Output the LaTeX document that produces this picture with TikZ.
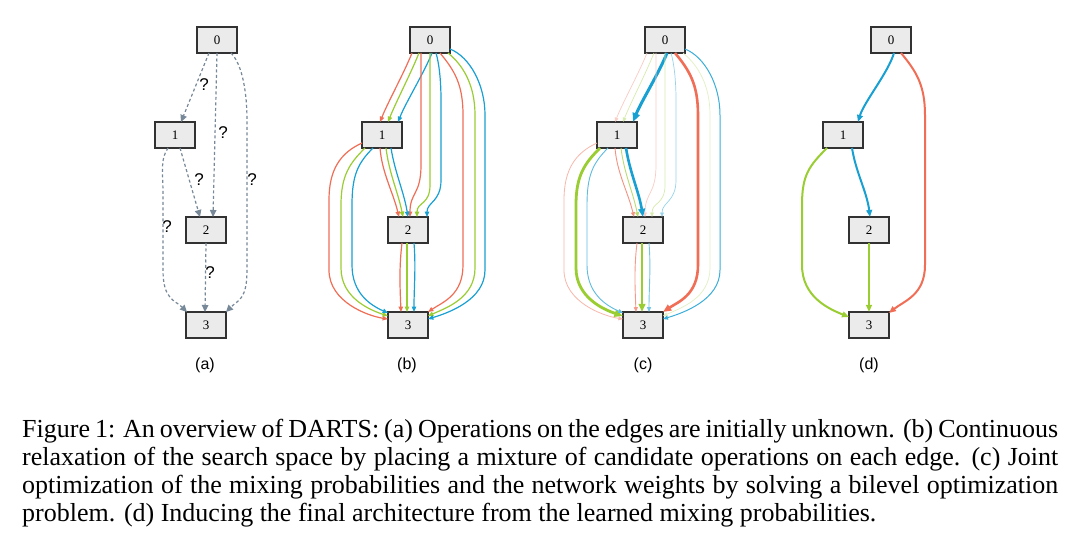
\documentclass[tikz,border=0pt]{standalone}
\usepackage{fontspec}
\setmainfont{Liberation Serif}
\newfontfamily\lsans{Liberation Sans}
\usetikzlibrary{arrows.meta,calc}
\definecolor{cR}{RGB}{240,110,85}
\definecolor{cG}{RGB}{154,205,50}
\definecolor{cB}{RGB}{25,160,210}
\definecolor{cA}{RGB}{119,136,153}
\definecolor{nfill}{RGB}{235,235,235}
\definecolor{ndraw}{RGB}{50,50,50}
\tikzset{
  nd/.style={draw=ndraw, fill=nfill, line width=1.2pt, minimum width=40pt, minimum height=26pt, inner sep=0pt, font=\fontsize{13}{13}\selectfont},
  ed/.style={line width=1.2pt, -{Triangle[length=3pt 2,width=2.5pt 1.6]}},
  qa/.style={cA, line width=1.2pt, dash pattern=on 3pt off 2.5pt, -{Triangle[length=7pt,width=6.5pt]}},
  qlab/.style={font=\lsans\fontsize{17}{17}\selectfont},
  plab/.style={font=\lsans\fontsize{16}{16}\selectfont},
  capline/.style={anchor=base west, inner sep=0pt, font=\fontsize{26}{28}\selectfont},
  b01r/.style={ed,cR}, b01g/.style={ed,cG}, b01b/.style={ed,cB},
  b02r/.style={ed,cR}, b02g/.style={ed,cG}, b02b/.style={ed,cB},
  b03r/.style={ed,cR}, b03g/.style={ed,cG}, b03b/.style={ed,cB},
  b12r/.style={ed,cR}, b12g/.style={ed,cG}, b12b/.style={ed,cB},
  b13r/.style={ed,cR}, b13g/.style={ed,cG}, b13b/.style={ed,cB},
  b23r/.style={ed,cR}, b23g/.style={ed,cG}, b23b/.style={ed,cB},
  c01r/.style={ed,cR!35,line width=0.7pt}, c01g/.style={ed,cG!40,line width=0.7pt}, c01b/.style={ed,cB,line width=3pt},
  c02r/.style={ed,cR!35,line width=0.7pt}, c02g/.style={ed,cG!40,line width=0.7pt}, c02b/.style={ed,cB!45,line width=0.7pt},
  c03r/.style={ed,cR,line width=2.6pt}, c03g/.style={ed,cG!30,line width=0.7pt}, c03b/.style={ed,cB!85,line width=1pt},
  c12r/.style={ed,cR!75,line width=0.9pt}, c12g/.style={ed,cG!70,line width=0.9pt}, c12b/.style={ed,cB,line width=2.6pt},
  c13r/.style={ed,cR!50,line width=0.8pt}, c13g/.style={ed,cG,line width=2.8pt}, c13b/.style={ed,cB!70,line width=0.9pt},
  c23r/.style={ed,cR!70,line width=0.9pt}, c23g/.style={ed,cG,line width=2.6pt}, c23b/.style={ed,cB!60,line width=0.9pt},
  dd/.style={ed,line width=2pt}
}
\newcommand\dartsedges[1]{%
  % 0 -> 1
  \draw[#101r] ($(#10)+(-18,13)$) .. controls +(-8,20) and +(8,-20) .. ($(#11)+(-2,-13)$);
  \draw[#101g] ($(#10)+(-11,13)$) .. controls +(-8,20) and +(8,-20) .. ($(#11)+(6,-13)$);
  \draw[#101b] ($(#10)+(2,13)$) .. controls +(-8,20) and +(8,-20) .. ($(#11)+(16,-13)$);
  % 0 -> 2
  \draw[#102r] ($(#10)+(-9,13)$) -- ($(#10)+(-9,125)$) .. controls +(0,30) and +(0,-25) .. ($(#12)+(2,-13)$);
  \draw[#102g] ($(#10)+(0,13)$) -- ($(#10)+(0,145)$) .. controls +(0,20) and +(0,-15) .. ($(#12)+(9,-13)$);
  \draw[#102b] ($(#10)+(6,13)$) .. controls +(3,10) and +(0,-20) .. ($(#10)+(11,60)$) -- ($(#10)+(11,140)$) .. controls +(0,22) and +(0,-15) .. ($(#12)+(19,-13)$);
  % 0 -> 3
  \draw[#103r] ($(#10)+(10,13)$) .. controls +(15,18) and +(0,-30) .. ($(#10)+(33,75)$) -- ($(#13)+(55,-60)$) .. controls +(0,30) and +(15,-10) .. ($(#13)+(20,-13)$);
  \draw[#103g] ($(#10)+(18,13)$) .. controls +(15,12) and +(0,-30) .. ($(#10)+(45,75)$) -- ($(#13)+(67,-57)$) .. controls +(0,30) and +(18,-8) .. ($(#13)+(20,-9)$);
  \draw[#103b] ($(#10)+(20,9)$) .. controls +(20,8) and +(0,-30) .. ($(#10)+(55,75)$) -- ($(#13)+(77,-55)$) .. controls +(0,30) and +(20,-6) .. ($(#13)+(20,-6)$);
  % 1 -> 2
  \draw[#112r] ($(#11)+(-2,13)$) .. controls +(2,25) and +(-6,-25) .. ($(#12)+(-9,-13)$);
  \draw[#112g] ($(#11)+(4,13)$) .. controls +(3,25) and +(-5,-25) .. ($(#12)+(-5,-13)$);
  \draw[#112b] ($(#11)+(9,13)$) .. controls +(4,25) and +(-4,-25) .. ($(#12)+(0,-13)$);
  % 1 -> 3
  \draw[#113r] ($(#11)+(-20,8)$) .. controls +(-22,10) and +(0,-30) .. ($(#11)+(-53,65)$) -- ($(#13)+(-79,-55)$) .. controls +(0,32) and +(-20,-3) .. ($(#13)+(-20,-6)$);
  \draw[#113g] ($(#11)+(-17,13)$) .. controls +(-15,15) and +(0,-30) .. ($(#11)+(-41,70)$) -- ($(#13)+(-67,-57)$) .. controls +(0,30) and +(-18,-6) .. ($(#13)+(-20,-9)$);
  \draw[#113b] ($(#11)+(-9,13)$) .. controls +(-15,15) and +(0,-30) .. ($(#11)+(-30,70)$) -- ($(#13)+(-56,-60)$) .. controls +(0,28) and +(-18,-8) .. ($(#13)+(-20,-12)$);
  % 2 -> 3
  \draw[#123r] ($(#12)+(-6,13)$) .. controls +(-3,25) and +(-1,-25) .. ($(#13)+(-7,-13)$);
  \draw[#123g] ($(#12)+(-1,13)$) -- ($(#13)+(-1,-13)$);
  \draw[#123b] ($(#12)+(6,13)$) .. controls +(2,25) and +(0,-25) .. ($(#13)+(6,-13)$);
}
\begin{document}
\begin{tikzpicture}[x=1pt,y=-1pt]
\useasboundingbox[fill=white] (0,0) rectangle (1080,540);
% ---------- panel (a)
\node[nd] (a0) at (217,40) {0};
\node[nd] (a1) at (175,135) {1};
\node[nd] (a2) at (206,230) {2};
\node[nd] (a3) at (206,325) {3};
\draw[qa] ($(a0)+(-8,13)$) -- ($(a1)+(6,-13)$);
\draw[qa] ($(a0)+(0,13)$) -- ($(a2)+(7,-13)$);
\draw[qa] ($(a0)+(14,13)$) .. controls +(12,12) and +(0,-25) .. ($(a0)+(30,80)$) -- ($(a3)+(41,-55)$) .. controls +(0,30) and +(12,-12) .. ($(a3)+(20,-13)$);
\draw[qa] ($(a1)+(5,13)$) -- ($(a2)+(-6,-13)$);
\draw[qa] ($(a1)+(-7,13)$) .. controls +(-8,12) and +(0,-25) .. ($(a1)+(-12,60)$) -- ($(a3)+(-43,-55)$) .. controls +(0,30) and +(-12,-12) .. ($(a3)+(-19,-13)$);
\draw[qa] ($(a2)+(0,13)$) -- ($(a3)+(-1,-13)$);
\node[qlab] (qa1) at (204,85) {?};
\node[qlab] (qa2) at (223,133) {?};
\node[qlab] (qa3) at (252,180) {?};
\node[qlab] (qa4) at (199,180) {?};
\node[qlab] (qa5) at (167,227) {?};
\node[qlab] (qa6) at (210,273) {?};
\node[plab] (la) at (205,365) {(a)};
% ---------- panel (b)
\node[nd] (b0) at (430,40) {0};
\node[nd] (b1) at (382,135) {1};
\node[nd] (b2) at (408,230) {2};
\node[nd] (b3) at (408,325) {3};
\dartsedges{b}
\node[plab] (lb) at (407,365) {(b)};
% ---------- panel (c)
\node[nd] (c0) at (665,40) {0};
\node[nd] (c1) at (617,135) {1};
\node[nd] (c2) at (643,230) {2};
\node[nd] (c3) at (643,325) {3};
\dartsedges{c}
\node[plab] (lc) at (643,365) {(c)};
% ---------- panel (d)
\node[nd] (d0) at (891,40) {0};
\node[nd] (d1) at (843,135) {1};
\node[nd] (d2) at (869,230) {2};
\node[nd] (d3) at (869,325) {3};
\draw[dd,cB] ($(d0)+(3,13)$) .. controls +(-6,20) and +(6,-20) .. ($(d1)+(15,-13)$);
\draw[dd,cR] ($(d0)+(10,13)$) .. controls +(15,18) and +(0,-30) .. ($(d0)+(34,75)$) -- ($(d3)+(56,-60)$) .. controls +(0,30) and +(15,-12) .. ($(d3)+(20,-12)$);
\draw[dd,cG] ($(d1)+(-16,13)$) .. controls +(-18,18) and +(0,-30) .. ($(d1)+(-41,70)$) -- ($(d3)+(-67,-60)$) .. controls +(0,32) and +(-20,-8) .. ($(d3)+(-20,-8)$);
\draw[dd,cB] ($(d1)+(9,13)$) .. controls +(4,25) and +(-3,-25) .. ($(d2)+(1,-13)$);
\draw[dd,cG] ($(d2)+(0,13)$) -- ($(d3)+(0,-13)$);
\node[plab] (ld) at (869,365) {(d)};
% ---------- caption
\node[capline] (cap1) at (22,437) {\makebox[1036pt][s]{Figure 1: An overview of DARTS: (a) Operations on the edges are initially unknown. (b) Continuous}};
\node[capline] (cap2) at (22,465) {\makebox[1036pt][s]{relaxation of the search space by placing a mixture of candidate operations on each edge. (c) Joint}};
\node[capline] (cap3) at (22,493) {\makebox[1036pt][s]{optimization of the mixing probabilities and the network weights by solving a bilevel optimization}};
\node[capline] (cap4) at (22,521) {problem. (d) Inducing the final architecture from the learned mixing probabilities.};
\end{tikzpicture}
\end{document}
